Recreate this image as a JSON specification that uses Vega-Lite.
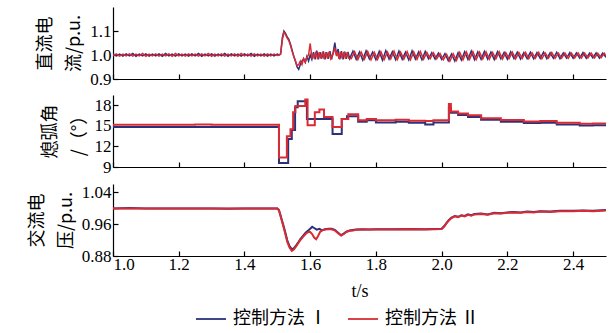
{
"$schema":"https://vega.github.io/schema/vega-lite/v6.json",
"padding":{"left":28,"top":7,"right":6,"bottom":2},
"spacing":8,
"config":{
 "view":{"stroke":null},
 "font":"Liberation Serif",
 "axis":{"grid":false,"domainColor":"#000","tickColor":"#000","labelColor":"#000","titleColor":"#000","labelFont":"Liberation Serif, serif","labelFontSize":17,"tickSize":-5,"domainWidth":1.2,"tickWidth":1.2,"titleFont":"Noto Sans CJK SC","titleFontSize":18,"titleFontWeight":"normal","labelPadding":7},
 "legend":{"orient":"none","legendX":82,"legendY":296,"direction":"horizontal","title":null,"labelFont":"Noto Sans CJK SC","labelFontSize":18,"labelColor":"#000","symbolType":"stroke","symbolStrokeWidth":1.8,"symbolSize":900,"columnPadding":16,"labelOffset":6}
},
"datasets":{
"dc":[
{"t":1.00,"m":"Ⅰ","v":1.005},{"t":1.01,"m":"Ⅰ","v":0.996},{"t":1.02,"m":"Ⅰ","v":1.004},{"t":1.03,"m":"Ⅰ","v":0.995},{"t":1.04,"m":"Ⅰ","v":1.005},{"t":1.05,"m":"Ⅰ","v":0.996},{"t":1.06,"m":"Ⅰ","v":1.006},{"t":1.07,"m":"Ⅰ","v":0.995},{"t":1.08,"m":"Ⅰ","v":1.004},{"t":1.09,"m":"Ⅰ","v":0.996},
{"t":1.10,"m":"Ⅰ","v":1.005},{"t":1.11,"m":"Ⅰ","v":0.995},{"t":1.12,"m":"Ⅰ","v":1.004},{"t":1.13,"m":"Ⅰ","v":0.996},{"t":1.14,"m":"Ⅰ","v":1.005},{"t":1.15,"m":"Ⅰ","v":0.995},{"t":1.16,"m":"Ⅰ","v":1.006},{"t":1.17,"m":"Ⅰ","v":0.996},{"t":1.18,"m":"Ⅰ","v":1.004},{"t":1.19,"m":"Ⅰ","v":0.995},
{"t":1.20,"m":"Ⅰ","v":1.005},{"t":1.21,"m":"Ⅰ","v":0.996},{"t":1.22,"m":"Ⅰ","v":1.004},{"t":1.23,"m":"Ⅰ","v":0.995},{"t":1.24,"m":"Ⅰ","v":1.005},{"t":1.25,"m":"Ⅰ","v":0.996},{"t":1.26,"m":"Ⅰ","v":1.006},{"t":1.27,"m":"Ⅰ","v":0.995},{"t":1.28,"m":"Ⅰ","v":1.004},{"t":1.29,"m":"Ⅰ","v":0.996},
{"t":1.30,"m":"Ⅰ","v":1.005},{"t":1.31,"m":"Ⅰ","v":0.995},{"t":1.32,"m":"Ⅰ","v":1.004},{"t":1.33,"m":"Ⅰ","v":0.996},{"t":1.34,"m":"Ⅰ","v":1.006},{"t":1.35,"m":"Ⅰ","v":0.995},{"t":1.36,"m":"Ⅰ","v":1.005},{"t":1.37,"m":"Ⅰ","v":0.996},{"t":1.38,"m":"Ⅰ","v":1.004},{"t":1.39,"m":"Ⅰ","v":0.995},
{"t":1.40,"m":"Ⅰ","v":1.005},{"t":1.41,"m":"Ⅰ","v":0.996},{"t":1.42,"m":"Ⅰ","v":1.006},{"t":1.43,"m":"Ⅰ","v":0.995},{"t":1.44,"m":"Ⅰ","v":1.004},{"t":1.45,"m":"Ⅰ","v":0.996},{"t":1.46,"m":"Ⅰ","v":1.005},{"t":1.47,"m":"Ⅰ","v":0.995},{"t":1.48,"m":"Ⅰ","v":1.004},{"t":1.49,"m":"Ⅰ","v":0.996},
{"t":1.50,"m":"Ⅰ","v":1.004},{"t":1.505,"m":"Ⅰ","v":1.0},{"t":1.51,"m":"Ⅰ","v":1.005},{"t":1.515,"m":"Ⅰ","v":1.07},{"t":1.52,"m":"Ⅰ","v":1.10},{"t":1.525,"m":"Ⅰ","v":1.09},{"t":1.53,"m":"Ⅰ","v":1.075},{"t":1.535,"m":"Ⅰ","v":1.065},{"t":1.54,"m":"Ⅰ","v":1.045},{"t":1.545,"m":"Ⅰ","v":1.02},
{"t":1.55,"m":"Ⅰ","v":0.995},{"t":1.555,"m":"Ⅰ","v":0.975},{"t":1.56,"m":"Ⅰ","v":0.95},{"t":1.565,"m":"Ⅰ","v":0.94},{"t":1.57,"m":"Ⅰ","v":0.96},{"t":1.575,"m":"Ⅰ","v":0.975},{"t":1.58,"m":"Ⅰ","v":0.985},{"t":1.585,"m":"Ⅰ","v":0.97},{"t":1.59,"m":"Ⅰ","v":0.995},{"t":1.595,"m":"Ⅰ","v":0.975},
{"t":1.60,"m":"Ⅰ","v":1.0},{"t":1.605,"m":"Ⅰ","v":0.982},{"t":1.61,"m":"Ⅰ","v":1.012},{"t":1.615,"m":"Ⅰ","v":0.982},{"t":1.62,"m":"Ⅰ","v":1.018},{"t":1.625,"m":"Ⅰ","v":0.982},{"t":1.63,"m":"Ⅰ","v":1.012},{"t":1.635,"m":"Ⅰ","v":0.985},{"t":1.64,"m":"Ⅰ","v":1.015},{"t":1.645,"m":"Ⅰ","v":0.982},
{"t":1.65,"m":"Ⅰ","v":1.012},{"t":1.655,"m":"Ⅰ","v":0.984},{"t":1.66,"m":"Ⅰ","v":1.016},{"t":1.665,"m":"Ⅰ","v":0.982},{"t":1.67,"m":"Ⅰ","v":1.012},{"t":1.675,"m":"Ⅰ","v":1.052},{"t":1.68,"m":"Ⅰ","v":1.0},{"t":1.685,"m":"Ⅰ","v":1.025},{"t":1.69,"m":"Ⅰ","v":0.982},{"t":1.695,"m":"Ⅰ","v":1.016},
{"t":1.70,"m":"Ⅰ","v":0.982},{"t":1.705,"m":"Ⅰ","v":1.014},{"t":1.71,"m":"Ⅰ","v":0.984},{"t":1.715,"m":"Ⅰ","v":1.013},{"t":1.72,"m":"Ⅰ","v":0.985},
{"t":1.73,"m":"Ⅰ","v":1.016},{"t":1.74,"m":"Ⅰ","v":0.982},{"t":1.75,"m":"Ⅰ","v":1.013},{"t":1.76,"m":"Ⅰ","v":0.979},{"t":1.77,"m":"Ⅰ","v":1.017},{"t":1.78,"m":"Ⅰ","v":0.984},{"t":1.79,"m":"Ⅰ","v":1.012},{"t":1.80,"m":"Ⅰ","v":0.98},{"t":1.81,"m":"Ⅰ","v":1.015},{"t":1.82,"m":"Ⅰ","v":0.978},
{"t":1.83,"m":"Ⅰ","v":1.018},{"t":1.84,"m":"Ⅰ","v":0.983},{"t":1.85,"m":"Ⅰ","v":1.014},{"t":1.86,"m":"Ⅰ","v":0.98},{"t":1.87,"m":"Ⅰ","v":1.016},{"t":1.88,"m":"Ⅰ","v":0.982},{"t":1.89,"m":"Ⅰ","v":1.012},{"t":1.90,"m":"Ⅰ","v":0.979},{"t":1.91,"m":"Ⅰ","v":1.017},{"t":1.92,"m":"Ⅰ","v":0.983},
{"t":1.93,"m":"Ⅰ","v":1.013},{"t":1.94,"m":"Ⅰ","v":0.98},{"t":1.95,"m":"Ⅰ","v":1.015},{"t":1.96,"m":"Ⅰ","v":0.984},{"t":1.97,"m":"Ⅰ","v":1.01},{"t":1.98,"m":"Ⅰ","v":0.983},{"t":1.99,"m":"Ⅰ","v":1.008},{"t":2.00,"m":"Ⅰ","v":0.982},{"t":2.01,"m":"Ⅰ","v":1.006},{"t":2.02,"m":"Ⅰ","v":0.976},
{"t":2.03,"m":"Ⅰ","v":1.004},{"t":2.04,"m":"Ⅰ","v":0.975},{"t":2.05,"m":"Ⅰ","v":1.01},{"t":2.06,"m":"Ⅰ","v":0.979},{"t":2.07,"m":"Ⅰ","v":1.014},{"t":2.08,"m":"Ⅰ","v":0.981},{"t":2.09,"m":"Ⅰ","v":1.016},{"t":2.10,"m":"Ⅰ","v":0.98},{"t":2.11,"m":"Ⅰ","v":1.013},{"t":2.12,"m":"Ⅰ","v":0.982},
{"t":2.13,"m":"Ⅰ","v":1.015},{"t":2.14,"m":"Ⅰ","v":0.983},{"t":2.15,"m":"Ⅰ","v":1.012},{"t":2.16,"m":"Ⅰ","v":0.981},{"t":2.17,"m":"Ⅰ","v":1.014},{"t":2.18,"m":"Ⅰ","v":0.984},{"t":2.19,"m":"Ⅰ","v":1.011},{"t":2.20,"m":"Ⅰ","v":0.982},{"t":2.21,"m":"Ⅰ","v":1.013},{"t":2.22,"m":"Ⅰ","v":0.985},
{"t":2.23,"m":"Ⅰ","v":1.012},{"t":2.24,"m":"Ⅰ","v":0.983},{"t":2.25,"m":"Ⅰ","v":1.01},{"t":2.26,"m":"Ⅰ","v":0.985},{"t":2.27,"m":"Ⅰ","v":1.012},{"t":2.28,"m":"Ⅰ","v":0.984},{"t":2.29,"m":"Ⅰ","v":1.01},{"t":2.30,"m":"Ⅰ","v":0.986},{"t":2.31,"m":"Ⅰ","v":1.012},{"t":2.32,"m":"Ⅰ","v":0.985},
{"t":2.33,"m":"Ⅰ","v":1.009},{"t":2.34,"m":"Ⅰ","v":0.986},{"t":2.35,"m":"Ⅰ","v":1.011},{"t":2.36,"m":"Ⅰ","v":0.985},{"t":2.37,"m":"Ⅰ","v":1.009},{"t":2.38,"m":"Ⅰ","v":0.987},{"t":2.39,"m":"Ⅰ","v":1.01},{"t":2.40,"m":"Ⅰ","v":0.986},{"t":2.41,"m":"Ⅰ","v":1.009},{"t":2.42,"m":"Ⅰ","v":0.987},
{"t":2.43,"m":"Ⅰ","v":1.01},{"t":2.44,"m":"Ⅰ","v":0.986},{"t":2.45,"m":"Ⅰ","v":1.008},{"t":2.46,"m":"Ⅰ","v":0.988},{"t":2.47,"m":"Ⅰ","v":1.009},{"t":2.48,"m":"Ⅰ","v":0.987},{"t":2.49,"m":"Ⅰ","v":1.008},{"t":2.50,"m":"Ⅰ","v":0.99},

{"t":1.00,"m":"Ⅱ","v":0.996},{"t":1.01,"m":"Ⅱ","v":1.005},{"t":1.02,"m":"Ⅱ","v":0.995},{"t":1.03,"m":"Ⅱ","v":1.004},{"t":1.04,"m":"Ⅱ","v":0.996},{"t":1.05,"m":"Ⅱ","v":1.005},{"t":1.06,"m":"Ⅱ","v":0.995},{"t":1.07,"m":"Ⅱ","v":1.004},{"t":1.08,"m":"Ⅱ","v":0.996},{"t":1.09,"m":"Ⅱ","v":1.006},
{"t":1.10,"m":"Ⅱ","v":0.995},{"t":1.11,"m":"Ⅱ","v":1.004},{"t":1.12,"m":"Ⅱ","v":0.996},{"t":1.13,"m":"Ⅱ","v":1.005},{"t":1.14,"m":"Ⅱ","v":0.995},{"t":1.15,"m":"Ⅱ","v":1.004},{"t":1.16,"m":"Ⅱ","v":0.996},{"t":1.17,"m":"Ⅱ","v":1.005},{"t":1.18,"m":"Ⅱ","v":0.995},{"t":1.19,"m":"Ⅱ","v":1.006},
{"t":1.20,"m":"Ⅱ","v":0.996},{"t":1.21,"m":"Ⅱ","v":1.004},{"t":1.22,"m":"Ⅱ","v":0.995},{"t":1.23,"m":"Ⅱ","v":1.005},{"t":1.24,"m":"Ⅱ","v":0.996},{"t":1.25,"m":"Ⅱ","v":1.004},{"t":1.26,"m":"Ⅱ","v":0.995},{"t":1.27,"m":"Ⅱ","v":1.005},{"t":1.28,"m":"Ⅱ","v":0.996},{"t":1.29,"m":"Ⅱ","v":1.006},
{"t":1.30,"m":"Ⅱ","v":0.995},{"t":1.31,"m":"Ⅱ","v":1.004},{"t":1.32,"m":"Ⅱ","v":0.996},{"t":1.33,"m":"Ⅱ","v":1.005},{"t":1.34,"m":"Ⅱ","v":0.995},{"t":1.35,"m":"Ⅱ","v":1.004},{"t":1.36,"m":"Ⅱ","v":0.996},{"t":1.37,"m":"Ⅱ","v":1.005},{"t":1.38,"m":"Ⅱ","v":0.995},{"t":1.39,"m":"Ⅱ","v":1.006},
{"t":1.40,"m":"Ⅱ","v":0.996},{"t":1.41,"m":"Ⅱ","v":1.004},{"t":1.42,"m":"Ⅱ","v":0.995},{"t":1.43,"m":"Ⅱ","v":1.005},{"t":1.44,"m":"Ⅱ","v":0.996},{"t":1.45,"m":"Ⅱ","v":1.004},{"t":1.46,"m":"Ⅱ","v":0.995},{"t":1.47,"m":"Ⅱ","v":1.005},{"t":1.48,"m":"Ⅱ","v":0.996},{"t":1.49,"m":"Ⅱ","v":1.004},
{"t":1.50,"m":"Ⅱ","v":0.998},{"t":1.505,"m":"Ⅱ","v":1.0},{"t":1.51,"m":"Ⅱ","v":1.003},{"t":1.515,"m":"Ⅱ","v":1.06},{"t":1.52,"m":"Ⅱ","v":1.095},{"t":1.525,"m":"Ⅱ","v":1.085},{"t":1.53,"m":"Ⅱ","v":1.07},{"t":1.535,"m":"Ⅱ","v":1.06},{"t":1.54,"m":"Ⅱ","v":1.04},{"t":1.545,"m":"Ⅱ","v":1.015},
{"t":1.55,"m":"Ⅱ","v":0.995},{"t":1.555,"m":"Ⅱ","v":0.975},{"t":1.56,"m":"Ⅱ","v":0.955},{"t":1.565,"m":"Ⅱ","v":0.96},{"t":1.57,"m":"Ⅱ","v":0.975},{"t":1.575,"m":"Ⅱ","v":0.96},{"t":1.58,"m":"Ⅱ","v":0.985},{"t":1.585,"m":"Ⅱ","v":0.97},{"t":1.59,"m":"Ⅱ","v":0.99},{"t":1.595,"m":"Ⅱ","v":1.0},
{"t":1.60,"m":"Ⅱ","v":1.048},{"t":1.605,"m":"Ⅱ","v":0.99},{"t":1.61,"m":"Ⅱ","v":1.0},{"t":1.6125,"m":"Ⅱ","v":0.984},{"t":1.6175,"m":"Ⅱ","v":1.014},{"t":1.6225,"m":"Ⅱ","v":0.983},{"t":1.6275,"m":"Ⅱ","v":1.012},{"t":1.6325,"m":"Ⅱ","v":0.985},{"t":1.6375,"m":"Ⅱ","v":1.013},{"t":1.6425,"m":"Ⅱ","v":0.983},
{"t":1.6475,"m":"Ⅱ","v":1.012},{"t":1.6525,"m":"Ⅱ","v":0.985},{"t":1.6575,"m":"Ⅱ","v":1.014},{"t":1.6625,"m":"Ⅱ","v":0.984},{"t":1.67,"m":"Ⅱ","v":1.005},{"t":1.675,"m":"Ⅱ","v":1.03},{"t":1.68,"m":"Ⅱ","v":0.995},{"t":1.6825,"m":"Ⅱ","v":1.015},{"t":1.6875,"m":"Ⅱ","v":0.984},{"t":1.6925,"m":"Ⅱ","v":1.013},
{"t":1.6975,"m":"Ⅱ","v":0.985},{"t":1.7025,"m":"Ⅱ","v":1.013},{"t":1.7075,"m":"Ⅱ","v":0.984},{"t":1.7125,"m":"Ⅱ","v":1.012},{"t":1.7175,"m":"Ⅱ","v":0.986},
{"t":1.725,"m":"Ⅱ","v":0.985},{"t":1.735,"m":"Ⅱ","v":1.014},{"t":1.745,"m":"Ⅱ","v":0.981},{"t":1.755,"m":"Ⅱ","v":1.012},{"t":1.765,"m":"Ⅱ","v":0.983},{"t":1.775,"m":"Ⅱ","v":1.015},{"t":1.785,"m":"Ⅱ","v":0.98},{"t":1.795,"m":"Ⅱ","v":1.011},{"t":1.805,"m":"Ⅱ","v":0.982},{"t":1.815,"m":"Ⅱ","v":1.014},
{"t":1.825,"m":"Ⅱ","v":0.981},{"t":1.835,"m":"Ⅱ","v":1.012},{"t":1.845,"m":"Ⅱ","v":0.984},{"t":1.855,"m":"Ⅱ","v":1.016},{"t":1.865,"m":"Ⅱ","v":0.981},{"t":1.875,"m":"Ⅱ","v":1.012},{"t":1.885,"m":"Ⅱ","v":0.983},{"t":1.895,"m":"Ⅱ","v":1.014},{"t":1.905,"m":"Ⅱ","v":0.98},{"t":1.915,"m":"Ⅱ","v":1.013},
{"t":1.925,"m":"Ⅱ","v":0.982},{"t":1.935,"m":"Ⅱ","v":1.015},{"t":1.945,"m":"Ⅱ","v":0.983},{"t":1.955,"m":"Ⅱ","v":1.011},{"t":1.965,"m":"Ⅱ","v":0.985},{"t":1.975,"m":"Ⅱ","v":1.009},{"t":1.985,"m":"Ⅱ","v":0.984},{"t":1.995,"m":"Ⅱ","v":1.006},{"t":2.005,"m":"Ⅱ","v":0.98},{"t":2.015,"m":"Ⅱ","v":1.003},
{"t":2.025,"m":"Ⅱ","v":0.974},{"t":2.035,"m":"Ⅱ","v":1.005},{"t":2.045,"m":"Ⅱ","v":0.977},{"t":2.055,"m":"Ⅱ","v":1.011},{"t":2.065,"m":"Ⅱ","v":0.98},{"t":2.075,"m":"Ⅱ","v":1.013},{"t":2.085,"m":"Ⅱ","v":0.982},{"t":2.095,"m":"Ⅱ","v":1.014},{"t":2.105,"m":"Ⅱ","v":0.981},{"t":2.115,"m":"Ⅱ","v":1.012},
{"t":2.125,"m":"Ⅱ","v":0.983},{"t":2.135,"m":"Ⅱ","v":1.013},{"t":2.145,"m":"Ⅱ","v":0.982},{"t":2.155,"m":"Ⅱ","v":1.011},{"t":2.165,"m":"Ⅱ","v":0.984},{"t":2.175,"m":"Ⅱ","v":1.013},{"t":2.185,"m":"Ⅱ","v":0.983},{"t":2.195,"m":"Ⅱ","v":1.01},{"t":2.205,"m":"Ⅱ","v":0.985},{"t":2.215,"m":"Ⅱ","v":1.012},
{"t":2.225,"m":"Ⅱ","v":0.984},{"t":2.235,"m":"Ⅱ","v":1.01},{"t":2.245,"m":"Ⅱ","v":0.986},{"t":2.255,"m":"Ⅱ","v":1.011},{"t":2.265,"m":"Ⅱ","v":0.985},{"t":2.275,"m":"Ⅱ","v":1.009},{"t":2.285,"m":"Ⅱ","v":0.986},{"t":2.295,"m":"Ⅱ","v":1.011},{"t":2.305,"m":"Ⅱ","v":0.985},{"t":2.315,"m":"Ⅱ","v":1.009},
{"t":2.325,"m":"Ⅱ","v":0.987},{"t":2.335,"m":"Ⅱ","v":1.01},{"t":2.345,"m":"Ⅱ","v":0.986},{"t":2.355,"m":"Ⅱ","v":1.008},{"t":2.365,"m":"Ⅱ","v":0.987},{"t":2.375,"m":"Ⅱ","v":1.009},{"t":2.385,"m":"Ⅱ","v":0.986},{"t":2.395,"m":"Ⅱ","v":1.008},{"t":2.405,"m":"Ⅱ","v":0.988},{"t":2.415,"m":"Ⅱ","v":1.009},
{"t":2.425,"m":"Ⅱ","v":0.987},{"t":2.435,"m":"Ⅱ","v":1.008},{"t":2.445,"m":"Ⅱ","v":0.988},{"t":2.455,"m":"Ⅱ","v":1.008},{"t":2.465,"m":"Ⅱ","v":0.988},{"t":2.475,"m":"Ⅱ","v":1.007},{"t":2.485,"m":"Ⅱ","v":0.989},{"t":2.495,"m":"Ⅱ","v":1.007},{"t":2.50,"m":"Ⅱ","v":0.996}
],
"ang":[
{"t":1.0,"m":"Ⅰ","v":14.85},{"t":1.505,"m":"Ⅰ","v":9.6},{"t":1.533,"m":"Ⅰ","v":13.1},{"t":1.544,"m":"Ⅰ","v":14.4},{"t":1.554,"m":"Ⅰ","v":17.7},{"t":1.562,"m":"Ⅰ","v":18.6},{"t":1.59,"m":"Ⅰ","v":16.0},{"t":1.668,"m":"Ⅰ","v":13.8},{"t":1.696,"m":"Ⅰ","v":16.0},{"t":1.712,"m":"Ⅰ","v":16.4},{"t":1.746,"m":"Ⅰ","v":15.6},{"t":1.772,"m":"Ⅰ","v":15.8},{"t":1.80,"m":"Ⅰ","v":15.5},{"t":1.86,"m":"Ⅰ","v":15.6},{"t":1.90,"m":"Ⅰ","v":15.45},{"t":1.95,"m":"Ⅰ","v":15.2},{"t":1.975,"m":"Ⅰ","v":15.5},{"t":2.022,"m":"Ⅰ","v":17.7},{"t":2.028,"m":"Ⅰ","v":16.9},{"t":2.05,"m":"Ⅰ","v":16.6},{"t":2.08,"m":"Ⅰ","v":16.3},{"t":2.12,"m":"Ⅰ","v":15.9},{"t":2.18,"m":"Ⅰ","v":15.6},{"t":2.25,"m":"Ⅰ","v":15.4},{"t":2.30,"m":"Ⅰ","v":15.45},{"t":2.35,"m":"Ⅰ","v":15.2},{"t":2.42,"m":"Ⅰ","v":15.05},{"t":2.46,"m":"Ⅰ","v":15.1},{"t":2.50,"m":"Ⅰ","v":15.0},
{"t":1.0,"m":"Ⅱ","v":15.15},{"t":1.25,"m":"Ⅱ","v":15.2},{"t":1.3,"m":"Ⅱ","v":15.15},{"t":1.505,"m":"Ⅱ","v":10.4},{"t":1.529,"m":"Ⅱ","v":13.5},{"t":1.54,"m":"Ⅱ","v":14.5},{"t":1.548,"m":"Ⅱ","v":17.0},{"t":1.555,"m":"Ⅱ","v":17.9},{"t":1.585,"m":"Ⅱ","v":18.85},{"t":1.592,"m":"Ⅱ","v":15.1},{"t":1.614,"m":"Ⅱ","v":17.0},{"t":1.628,"m":"Ⅱ","v":17.4},{"t":1.642,"m":"Ⅱ","v":16.3},{"t":1.668,"m":"Ⅱ","v":14.85},{"t":1.696,"m":"Ⅱ","v":16.0},{"t":1.716,"m":"Ⅱ","v":16.7},{"t":1.746,"m":"Ⅱ","v":15.8},{"t":1.772,"m":"Ⅱ","v":16.0},{"t":1.80,"m":"Ⅱ","v":15.8},{"t":1.86,"m":"Ⅱ","v":15.9},{"t":1.90,"m":"Ⅱ","v":15.75},{"t":1.95,"m":"Ⅱ","v":15.7},{"t":1.975,"m":"Ⅱ","v":15.8},{"t":2.022,"m":"Ⅱ","v":18.2},{"t":2.028,"m":"Ⅱ","v":17.1},{"t":2.05,"m":"Ⅱ","v":16.8},{"t":2.08,"m":"Ⅱ","v":16.55},{"t":2.12,"m":"Ⅱ","v":16.1},{"t":2.18,"m":"Ⅱ","v":15.85},{"t":2.25,"m":"Ⅱ","v":15.65},{"t":2.30,"m":"Ⅱ","v":15.7},{"t":2.35,"m":"Ⅱ","v":15.45},{"t":2.42,"m":"Ⅱ","v":15.3},{"t":2.46,"m":"Ⅱ","v":15.35},{"t":2.50,"m":"Ⅱ","v":15.25}
],
"ac":[
{"t":1.0,"m":"Ⅰ","v":0.999},{"t":1.05,"m":"Ⅰ","v":1.0},{"t":1.1,"m":"Ⅰ","v":0.999},{"t":1.15,"m":"Ⅰ","v":0.999},{"t":1.2,"m":"Ⅰ","v":0.9985},{"t":1.25,"m":"Ⅰ","v":0.999},{"t":1.3,"m":"Ⅰ","v":0.999},{"t":1.35,"m":"Ⅰ","v":0.998},{"t":1.4,"m":"Ⅰ","v":0.999},{"t":1.45,"m":"Ⅰ","v":0.9985},{"t":1.5,"m":"Ⅰ","v":0.999},{"t":1.505,"m":"Ⅰ","v":0.995},{"t":1.512,"m":"Ⅰ","v":0.975},{"t":1.518,"m":"Ⅰ","v":0.958},{"t":1.524,"m":"Ⅰ","v":0.94},{"t":1.53,"m":"Ⅰ","v":0.92},{"t":1.537,"m":"Ⅰ","v":0.905},{"t":1.544,"m":"Ⅰ","v":0.897},{"t":1.55,"m":"Ⅰ","v":0.899},{"t":1.556,"m":"Ⅰ","v":0.905},{"t":1.562,"m":"Ⅰ","v":0.912},{"t":1.57,"m":"Ⅰ","v":0.922},{"t":1.578,"m":"Ⅰ","v":0.93},{"t":1.586,"m":"Ⅰ","v":0.938},{"t":1.594,"m":"Ⅰ","v":0.944},{"t":1.60,"m":"Ⅰ","v":0.948},{"t":1.606,"m":"Ⅰ","v":0.953},{"t":1.612,"m":"Ⅰ","v":0.95},{"t":1.62,"m":"Ⅰ","v":0.946},{"t":1.628,"m":"Ⅰ","v":0.948},{"t":1.636,"m":"Ⅰ","v":0.944},{"t":1.645,"m":"Ⅰ","v":0.947},{"t":1.655,"m":"Ⅰ","v":0.948},{"t":1.665,"m":"Ⅰ","v":0.948},{"t":1.675,"m":"Ⅰ","v":0.945},{"t":1.685,"m":"Ⅰ","v":0.938},{"t":1.694,"m":"Ⅰ","v":0.932},{"t":1.702,"m":"Ⅰ","v":0.936},{"t":1.71,"m":"Ⅰ","v":0.941},{"t":1.72,"m":"Ⅰ","v":0.944},{"t":1.73,"m":"Ⅰ","v":0.945},{"t":1.74,"m":"Ⅰ","v":0.946},{"t":1.76,"m":"Ⅰ","v":0.947},{"t":1.78,"m":"Ⅰ","v":0.9465},{"t":1.8,"m":"Ⅰ","v":0.947},{"t":1.85,"m":"Ⅰ","v":0.947},{"t":1.9,"m":"Ⅰ","v":0.9475},{"t":1.95,"m":"Ⅰ","v":0.947},{"t":2.0,"m":"Ⅰ","v":0.948},{"t":2.008,"m":"Ⅰ","v":0.955},{"t":2.015,"m":"Ⅰ","v":0.963},{"t":2.022,"m":"Ⅰ","v":0.97},{"t":2.03,"m":"Ⅰ","v":0.976},{"t":2.04,"m":"Ⅰ","v":0.98},{"t":2.05,"m":"Ⅰ","v":0.978},{"t":2.06,"m":"Ⅰ","v":0.982},{"t":2.07,"m":"Ⅰ","v":0.98},{"t":2.08,"m":"Ⅰ","v":0.984},{"t":2.09,"m":"Ⅰ","v":0.982},{"t":2.1,"m":"Ⅰ","v":0.985},{"t":2.12,"m":"Ⅰ","v":0.986},{"t":2.14,"m":"Ⅰ","v":0.984},{"t":2.16,"m":"Ⅰ","v":0.988},{"t":2.18,"m":"Ⅰ","v":0.987},{"t":2.2,"m":"Ⅰ","v":0.989},{"t":2.22,"m":"Ⅰ","v":0.99},{"t":2.24,"m":"Ⅰ","v":0.989},{"t":2.26,"m":"Ⅰ","v":0.991},{"t":2.28,"m":"Ⅰ","v":0.99},{"t":2.3,"m":"Ⅰ","v":0.992},{"t":2.33,"m":"Ⅰ","v":0.991},{"t":2.36,"m":"Ⅰ","v":0.993},{"t":2.4,"m":"Ⅰ","v":0.993},{"t":2.43,"m":"Ⅰ","v":0.994},{"t":2.46,"m":"Ⅰ","v":0.993},{"t":2.5,"m":"Ⅰ","v":0.995},
{"t":1.0,"m":"Ⅱ","v":0.999},{"t":1.05,"m":"Ⅱ","v":0.9985},{"t":1.1,"m":"Ⅱ","v":0.999},{"t":1.15,"m":"Ⅱ","v":0.9985},{"t":1.2,"m":"Ⅱ","v":0.999},{"t":1.25,"m":"Ⅱ","v":0.9985},{"t":1.3,"m":"Ⅱ","v":0.999},{"t":1.35,"m":"Ⅱ","v":0.9985},{"t":1.4,"m":"Ⅱ","v":0.999},{"t":1.45,"m":"Ⅱ","v":0.999},{"t":1.5,"m":"Ⅱ","v":0.9985},{"t":1.505,"m":"Ⅱ","v":0.994},{"t":1.512,"m":"Ⅱ","v":0.973},{"t":1.518,"m":"Ⅱ","v":0.955},{"t":1.524,"m":"Ⅱ","v":0.936},{"t":1.53,"m":"Ⅱ","v":0.916},{"t":1.537,"m":"Ⅱ","v":0.901},{"t":1.544,"m":"Ⅱ","v":0.893},{"t":1.55,"m":"Ⅱ","v":0.896},{"t":1.556,"m":"Ⅱ","v":0.903},{"t":1.562,"m":"Ⅱ","v":0.91},{"t":1.57,"m":"Ⅱ","v":0.92},{"t":1.578,"m":"Ⅱ","v":0.928},{"t":1.586,"m":"Ⅱ","v":0.935},{"t":1.594,"m":"Ⅱ","v":0.94},{"t":1.60,"m":"Ⅱ","v":0.94},{"t":1.606,"m":"Ⅱ","v":0.935},{"t":1.612,"m":"Ⅱ","v":0.926},{"t":1.618,"m":"Ⅱ","v":0.922},{"t":1.624,"m":"Ⅱ","v":0.93},{"t":1.63,"m":"Ⅱ","v":0.94},{"t":1.636,"m":"Ⅱ","v":0.944},{"t":1.645,"m":"Ⅱ","v":0.946},{"t":1.655,"m":"Ⅱ","v":0.947},{"t":1.665,"m":"Ⅱ","v":0.947},{"t":1.675,"m":"Ⅱ","v":0.944},{"t":1.685,"m":"Ⅱ","v":0.937},{"t":1.694,"m":"Ⅱ","v":0.931},{"t":1.702,"m":"Ⅱ","v":0.935},{"t":1.71,"m":"Ⅱ","v":0.94},{"t":1.72,"m":"Ⅱ","v":0.943},{"t":1.73,"m":"Ⅱ","v":0.944},{"t":1.74,"m":"Ⅱ","v":0.9455},{"t":1.76,"m":"Ⅱ","v":0.946},{"t":1.78,"m":"Ⅱ","v":0.946},{"t":1.8,"m":"Ⅱ","v":0.9465},{"t":1.85,"m":"Ⅱ","v":0.9465},{"t":1.9,"m":"Ⅱ","v":0.947},{"t":1.95,"m":"Ⅱ","v":0.9465},{"t":2.0,"m":"Ⅱ","v":0.9475},{"t":2.008,"m":"Ⅱ","v":0.954},{"t":2.015,"m":"Ⅱ","v":0.962},{"t":2.022,"m":"Ⅱ","v":0.969},{"t":2.03,"m":"Ⅱ","v":0.975},{"t":2.04,"m":"Ⅱ","v":0.979},{"t":2.05,"m":"Ⅱ","v":0.977},{"t":2.06,"m":"Ⅱ","v":0.981},{"t":2.07,"m":"Ⅱ","v":0.979},{"t":2.08,"m":"Ⅱ","v":0.983},{"t":2.09,"m":"Ⅱ","v":0.981},{"t":2.1,"m":"Ⅱ","v":0.984},{"t":2.12,"m":"Ⅱ","v":0.985},{"t":2.14,"m":"Ⅱ","v":0.983},{"t":2.16,"m":"Ⅱ","v":0.987},{"t":2.18,"m":"Ⅱ","v":0.986},{"t":2.2,"m":"Ⅱ","v":0.988},{"t":2.22,"m":"Ⅱ","v":0.989},{"t":2.24,"m":"Ⅱ","v":0.988},{"t":2.26,"m":"Ⅱ","v":0.99},{"t":2.28,"m":"Ⅱ","v":0.989},{"t":2.3,"m":"Ⅱ","v":0.991},{"t":2.33,"m":"Ⅱ","v":0.99},{"t":2.36,"m":"Ⅱ","v":0.992},{"t":2.4,"m":"Ⅱ","v":0.992},{"t":2.43,"m":"Ⅱ","v":0.993},{"t":2.46,"m":"Ⅱ","v":0.992},{"t":2.5,"m":"Ⅱ","v":0.994}
]
},
"vconcat":[
{
 "width":493,"height":72,
 "data":{"name":"dc"},
 "mark":{"type":"line","strokeWidth":1.5,"clip":true},
 "encoding":{
  "x":{"field":"t","type":"quantitative","scale":{"domain":[1.0,2.5],"nice":false,"zero":false},"axis":{"values":[1.0,1.2,1.4,1.6,1.8,2.0,2.2,2.4],"labels":false,"title":null}},
  "y":{"field":"v","type":"quantitative","scale":{"domain":[0.9,1.2],"nice":false,"zero":false},"axis":{"values":[0.9,1.0,1.1],"format":".1f","title":["直流电","流/p.u."],"titleLineHeight":29,"titlePadding":6}},
  "color":{"field":"m","type":"nominal","scale":{"domain":["Ⅰ","Ⅱ"],"range":["#2b3279","#d92b34"]},"legend":{"labelExpr":"'控制方法 ' + datum.label"}}
 }
},
{
 "width":493,"height":72,
 "data":{"name":"ang"},
 "mark":{"type":"line","strokeWidth":2,"interpolate":"step-after","clip":true},
 "encoding":{
  "x":{"field":"t","type":"quantitative","scale":{"domain":[1.0,2.5],"nice":false,"zero":false},"axis":{"values":[1.0,1.2,1.4,1.6,1.8,2.0,2.2,2.4],"labels":false,"title":null}},
  "y":{"field":"v","type":"quantitative","scale":{"domain":[9,19.5],"nice":false,"zero":false},"axis":{"values":[9,12,15,18],"title":["熄弧角","/（°）"],"titleLineHeight":29,"titlePadding":6}},
  "color":{"field":"m","type":"nominal","scale":{"domain":["Ⅰ","Ⅱ"],"range":["#2b3279","#d92b34"]},"legend":{"labelExpr":"'控制方法 ' + datum.label"}}
 }
},
{
 "width":493,"height":72,
 "data":{"name":"ac"},
 "mark":{"type":"line","strokeWidth":2,"clip":true},
 "encoding":{
  "x":{"field":"t","type":"quantitative","scale":{"domain":[1.0,2.5],"nice":false,"zero":false},"axis":{"values":[1.0,1.2,1.4,1.6,1.8,2.0,2.2,2.4],"format":".1f","title":"t/s","titleFont":"Liberation Serif, serif","titleFontSize":18,"titlePadding":10,"labelPadding":5}},
  "y":{"field":"v","type":"quantitative","scale":{"domain":[0.88,1.06],"nice":false,"zero":false},"axis":{"values":[0.88,0.96,1.04],"format":".2f","title":["交流电","压/p.u."],"titleLineHeight":29,"titlePadding":6}},
  "color":{"field":"m","type":"nominal","scale":{"domain":["Ⅰ","Ⅱ"],"range":["#2b3279","#d92b34"]},"legend":{"labelExpr":"'控制方法 ' + datum.label"}}
 }
}
]
}
